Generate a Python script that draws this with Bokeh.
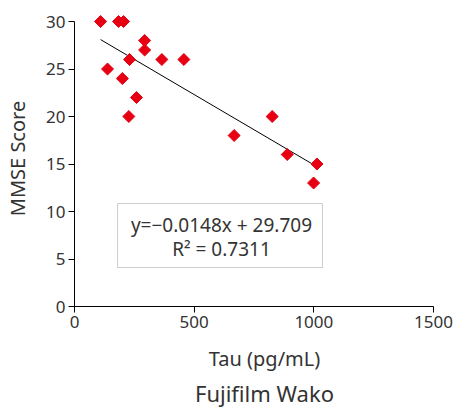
from bokeh.plotting import figure
from bokeh.models import Range1d, Title, BoxAnnotation, Label, FixedTicker
from bokeh.embed import file_html
from bokeh.resources import INLINE

tau = [109, 184, 205, 293, 293, 138, 230, 200, 259, 227, 365, 457, 667, 826, 889, 1013, 999]
mmse = [30, 30, 30, 28, 27, 25, 26, 24, 22, 20, 26, 26, 18, 20, 16, 15, 13]
slope = -0.0148
intercept = 29.709
fit_x = [109, 1000]
fit_y = [slope * x + intercept for x in fit_x]
x_ticks = [0, 500, 1000, 1500]
y_ticks = [0, 5, 10, 15, 20, 25, 30]
eq_text = "y=\u22120.0148x + 29.709"
r2_text = "R\u00b2 = 0.7311"

FONT = "Noto Sans"
TXT = "#333333"

p = figure(width=454, height=410, output_backend="svg", toolbar_location=None,
           x_range=Range1d(0, 1587.7), y_range=Range1d(0, 31.16),
           min_border_left=74, min_border_right=0, min_border_top=10, min_border_bottom=104)
p.outline_line_color = None
p.grid.visible = False
p.background_fill_color = "white"

for ax in (p.xaxis[0], p.yaxis[0]):
    ax.axis_line_color = "black"
    ax.major_tick_line_color = "black"
    ax.major_tick_out = 6
    ax.major_tick_in = 0
    ax.minor_tick_line_color = None
    ax.major_label_text_font = FONT
    ax.major_label_text_font_size = "17px"
    ax.major_label_text_color = TXT
    ax.axis_label_text_font = FONT
    ax.axis_label_text_font_size = "20px"
    ax.axis_label_text_font_style = "normal"
    ax.axis_label_text_color = TXT

p.xaxis.ticker = FixedTicker(ticks=x_ticks)
p.yaxis.ticker = FixedTicker(ticks=y_ticks)
p.yaxis.bounds = (0, 30)
p.xaxis.bounds = (0, 1500)
p.xaxis.axis_label = "Tau (pg/mL)"
p.yaxis.axis_label = "MMSE Score"
p.xaxis.major_label_standoff = 3
p.yaxis.major_label_standoff = 3
p.xaxis.axis_label_standoff = 14
p.yaxis.axis_label_standoff = 12

p.line(fit_x, fit_y, line_color="black", line_width=1)
p.scatter(tau, mmse, marker="square", angle=0.785398, size=8.5,
          fill_color="#E60012", line_color="#E60012")

box = BoxAnnotation(left=180, right=1036, bottom=4.1, top=10.84,
                    fill_color="white", fill_alpha=1, line_color="#555555", line_width=1)
p.add_layout(box)
p.add_layout(Label(x=614, y=8.63, text=eq_text, text_align="center", text_baseline="middle",
                   text_font=FONT, text_font_size="19px", text_color=TXT))
p.add_layout(Label(x=614, y=6.1, text=r2_text, text_align="center", text_baseline="middle",
                   text_font=FONT, text_font_size="19px", text_color=TXT))

t = Title(text="Fujifilm Wako", align="center", text_font=FONT, text_font_size="22px",
          text_font_style="normal", text_color=TXT, standoff=2)
p.add_layout(t, "below")

open("out.html", "w").write(file_html(p, INLINE))
